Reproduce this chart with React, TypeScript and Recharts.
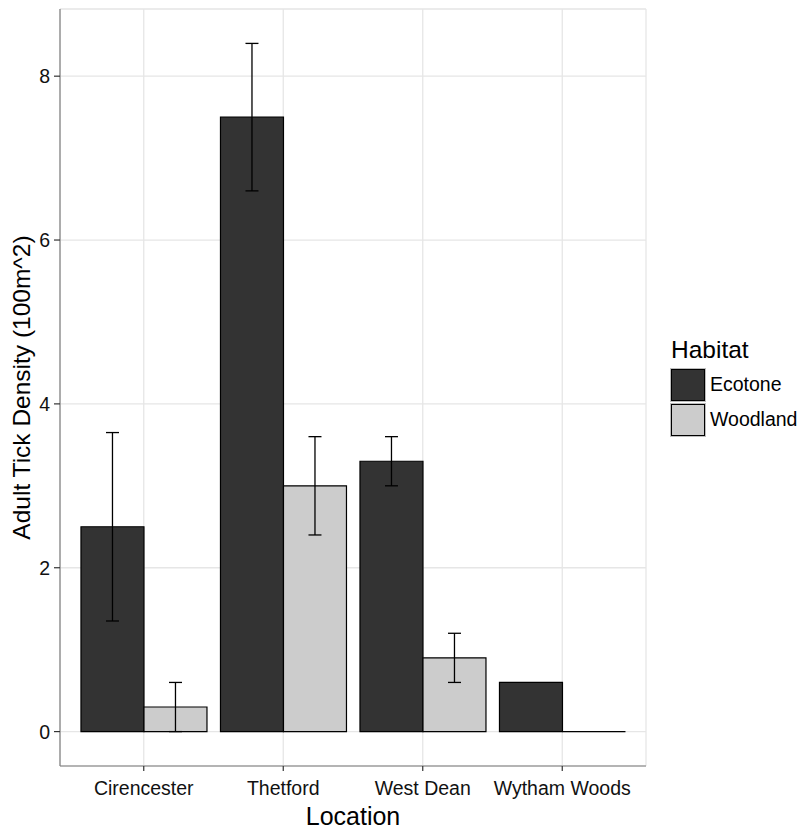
import React from "react"
import {
  Bar,
  BarChart,
  CartesianGrid,
  ErrorBar,
  Label,
  Legend,
  XAxis,
  YAxis,
} from "recharts"

// values
const locations = ["Cirencester", "Thetford", "West Dean", "Wytham Woods"]
const ecotone = [2.5, 7.5, 3.3, 0.6]
const ecotoneErr = [1.15, 0.9, 0.3, 0]
const woodland = [0.3, 3.0, 0.9, 0]
const woodlandErr = [0.3, 0.6, 0.3, 0]
const majorTicks = [0, 2, 4, 6, 8]
const minorTicks = [1, 3, 5, 7]
const yDomain = [-0.42, 8.82]

const data = locations.map((location, i) => ({
  location,
  ecotone: ecotone[i],
  ecotoneErr: ecotoneErr[i],
  woodland: woodland[i],
  woodlandErr: woodlandErr[i],
}))

const FONT = "'Liberation Sans', Arial, Helvetica, sans-serif"
const BORDER = "#7f7f7f"

// ggplot draws zero-height bars as a flat outline, so use a path
const BarShape = (props: any) => {
  const { x, y, width, height, fill } = props
  return (
    <path
      d={`M${x},${y + height}V${y}H${x + width}V${y + height}Z`}
      fill={fill}
      stroke="#000"
      strokeWidth={1.2}
    />
  )
}

const renderLegend = ({ payload }: any) => (
  <div style={{ fontFamily: FONT, color: "#000" }}>
    <div style={{ fontSize: 24.5, lineHeight: "28px", marginBottom: 3 }}>Habitat</div>
    {(payload || []).map((entry: any) => (
      <div key={entry.value} style={{ display: "flex", alignItems: "center", height: 35 }}>
        <span
          style={{
            width: 32,
            height: 30,
            boxSizing: "content-box",
            background: entry.color,
            border: "1.5px solid #000",
            outline: "1px solid #bdbdbd",
          }}
        />
        <span style={{ marginLeft: 5, fontSize: 19.5 }}>{entry.value}</span>
      </div>
    ))}
  </div>
)

export default function App() {
  return (
    <div style={{ width: 804, height: 830, fontFamily: FONT }}>
      <style>{"body{margin:0}"}</style>
      <BarChart
        width={804}
        height={830}
        data={data}
        margin={{ top: 9, right: 158, left: 0, bottom: 0 }}
        barCategoryGap="5%"
        barGap={0}
      >
        <CartesianGrid yAxisId="r" vertical={false} stroke="#f3f3f3" strokeWidth={1.2} />
        <CartesianGrid stroke="#e6e6e6" strokeWidth={1.3} />
        <XAxis
          dataKey="location"
          padding={{ left: 14, right: 14 }}
          height={64}
          axisLine={{ stroke: BORDER, strokeWidth: 1.2 }}
          tickLine={{ stroke: "#333", strokeWidth: 1.2 }}
          tickSize={5}
          tickMargin={10}
          tick={{ fill: "#111", fontSize: 19.5, fontFamily: FONT }}
        >
          <Label
            content={({ viewBox }: any) => (
              <text
                x={viewBox.x + viewBox.width / 2}
                y={825}
                textAnchor="middle"
                fontSize={25}
                fontFamily={FONT}
                fill="#000"
              >
                Location
              </text>
            )}
          />
        </XAxis>
        <XAxis
          xAxisId="top"
          dataKey="location"
          orientation="top"
          height={0}
          tick={false}
          tickLine={false}
          axisLine={{ stroke: BORDER, strokeWidth: 1.2 }}
        />
        <YAxis
          type="number"
          domain={yDomain}
          ticks={majorTicks}
          width={60}
          axisLine={{ stroke: BORDER, strokeWidth: 1.2 }}
          tickLine={{ stroke: "#333", strokeWidth: 1.2 }}
          tickSize={6}
          tickMargin={4}
          tick={{ fill: "#111", fontSize: 19.5, fontFamily: FONT }}
        >
          <Label
            content={({ viewBox }: any) => (
              <text
                transform="rotate(-90)"
                x={-(viewBox.y + viewBox.height / 2)}
                y={30}
                textAnchor="middle"
                fontSize={24.5}
                fontFamily={FONT}
                fill="#000"
              >
                Adult Tick Density (100m^2)
              </text>
            )}
          />
        </YAxis>
        <YAxis
          yAxisId="r"
          orientation="right"
          type="number"
          domain={yDomain}
          ticks={minorTicks}
          width={0}
          tick={false}
          tickLine={false}
          axisLine={{ stroke: BORDER, strokeWidth: 1.2 }}
        />
        <Legend
          layout="horizontal"
          verticalAlign="middle"
          align="center"
          content={renderLegend}
          wrapperStyle={{ left: 671, top: 336, width: 133, height: "auto" }}
        />
        <Bar
          dataKey="ecotone"
          name="Ecotone"
          fill="#333333"
          shape={<BarShape />}
          isAnimationActive={false}
        >
          <ErrorBar dataKey="ecotoneErr" width={6.5} stroke="#000" strokeWidth={1.3} />
        </Bar>
        <Bar
          dataKey="woodland"
          name="Woodland"
          fill="#cccccc"
          shape={<BarShape />}
          isAnimationActive={false}
        >
          <ErrorBar dataKey="woodlandErr" width={6.5} stroke="#000" strokeWidth={1.3} />
        </Bar>
      </BarChart>
    </div>
  )
}
